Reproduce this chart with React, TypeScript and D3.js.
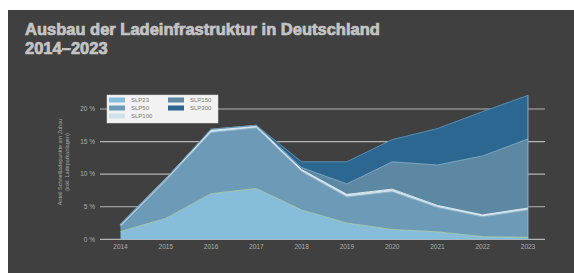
import React from "react";
import * as d3 from "d3";

const years = [2014, 2015, 2016, 2017, 2018, 2019, 2020, 2021, 2022, 2023];
const slp23 = [1.2, 3.2, 7.0, 7.8, 4.5, 2.5, 1.5, 1.15, 0.4, 0.3];
const slp50 = [0.8, 5.8, 9.4, 9.3, 5.9, 4.0, 5.8, 3.75, 3.05, 4.2];
const slp100 = [0.3, 0.3, 0.4, 0.3, 0.3, 0.4, 0.4, 0.3, 0.3, 0.3];
const slp150 = [0.0, 0.0, 0.1, 0.1, 0.3, 1.6, 4.2, 6.2, 9.05, 10.6];
const slp300 = [0.0, 0.0, 0.0, 0.0, 0.9, 3.4, 3.4, 5.6, 6.8, 6.7];
const seriesNames = ["SLP23", "SLP50", "SLP100", "SLP150", "SLP300"];
const yTicks = [0, 5, 10, 15, 20];

const fills = ["#86bddb", "#6d9bb7", "#cfe1ec", "#5c88a3", "#2c6791"];
const strokes = ["#a9d0b0", "#8fb6cc", "#e6f0f5", "#86aec4", "#5d92b8"];

export default function App() {
  const W = 574, H = 273;
  const x = d3.scaleLinear().domain([2014, 2023]).range([120.5, 528]);
  const y = d3.scaleLinear().domain([0, 20]).range([239.3, 109]);
  const data = years.map((yr, i) => ({
    year: yr,
    SLP23: slp23[i],
    SLP50: slp50[i],
    SLP100: slp100[i],
    SLP150: slp150[i],
    SLP300: slp300[i],
  }));
  const stacked = d3.stack<any>().keys(seriesNames)(data);
  const area = d3
    .area<any>()
    .x((d) => x(d.data.year))
    .y0((d) => y(d[0]))
    .y1((d) => y(d[1]));
  const topLine = d3
    .line<any>()
    .x((d) => x(d.data.year))
    .y((d) => y(d[1]));

  const legendItems = [
    { name: "SLP23", col: 0, row: 0 },
    { name: "SLP50", col: 0, row: 1 },
    { name: "SLP100", col: 0, row: 2 },
    { name: "SLP150", col: 1, row: 0 },
    { name: "SLP300", col: 1, row: 1 },
  ];

  return (
    <svg
      width={W}
      height={H}
      style={{ position: "absolute", left: 0, top: 0, background: "#fff" }}
      fontFamily="'Liberation Sans', Arial, sans-serif"
    >
      <rect x={8} y={10} width={W - 8} height={H - 10} fill="#404040" />
      <g fill="#c4c4c4" stroke="#c4c4c4" strokeWidth={0.7} fontSize={16.5} fontWeight="bold">
        <text x={25} y={35}>Ausbau der Ladeinfrastruktur in Deutschland</text>
        <text x={25} y={54}>2014–2023</text>
      </g>

      {/* y axis title */}
      <g transform="translate(62,162) rotate(-90)" fill="#a8a8a8" fontSize={5.5}>
        <text x={0} y={0} textAnchor="middle">Anteil Schnellladepunkte am Zubau</text>
        <text x={0} y={7} textAnchor="middle">(inkl. Ladeparkanlagen)</text>
      </g>

      {/* gridlines */}
      {yTicks.map((t) => (
        <g key={t}>
          <line x1={100} x2={545} y1={y(t)} y2={y(t)} stroke="#b4b4b4" strokeWidth={1.2} />
          <text x={95} y={y(t) + 2.3} fill="#acacac" fontSize={6.5} textAnchor="end">
            {t} %
          </text>
        </g>
      ))}

      {/* areas */}
      {stacked.map((s, i) => (
        <path key={s.key} d={area(s) || ""} fill={fills[i]} />
      ))}
      {stacked.map((s, i) => (
        <path key={s.key + "l"} d={topLine(s) || ""} fill="none" stroke={strokes[i]} strokeWidth={0.9} />
      ))}
      <line x1={x(2023)} x2={x(2023)} y1={y(0)} y2={y(stacked[4][9][1])} stroke="#9fc3d6" strokeWidth={0.8} />

      {/* x tick labels */}
      {years.map((yr) => (
        <text key={yr} x={x(yr)} y={248.5} fill="#acacac" fontSize={6.5} textAnchor="middle">
          {yr}
        </text>
      ))}

      {/* legend */}
      <rect x={107} y={95} width={111} height={28} fill="#f2f2f2" stroke="#dcdcdc" strokeWidth={0.5} />
      {legendItems.map((it) => {
        const idx = seriesNames.indexOf(it.name);
        const lx = it.col === 0 ? 109 : 168;
        const ly = 97.5 + it.row * 8;
        return (
          <g key={it.name}>
            <rect x={lx} y={ly} width={16} height={5} fill={fills[idx]} />
            <text x={lx + 22} y={ly + 4.5} fill="#777" fontSize={6}>
              {it.name}
            </text>
          </g>
        );
      })}
    </svg>
  );
}
